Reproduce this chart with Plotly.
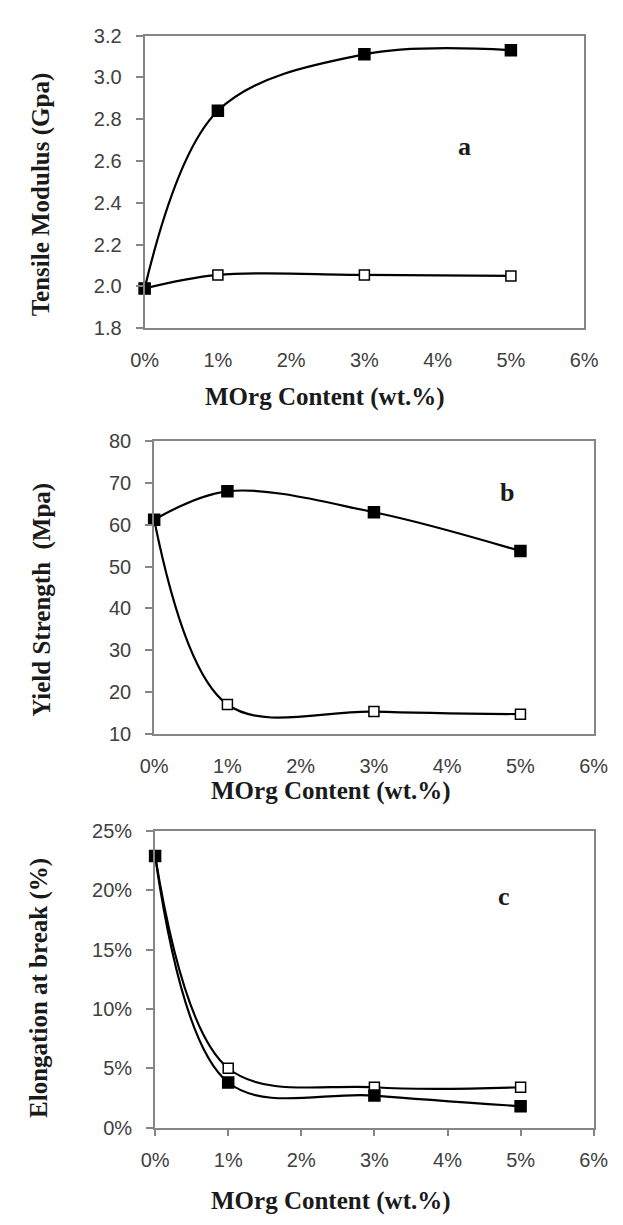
import plotly.graph_objects as go

W, H = 623, 1225

# ---- data ----
x_content = [0, 1, 3, 5]  # MOrg content (wt.%)
x_tickvals = [0, 1, 2, 3, 4, 5, 6]
x_ticklabels = ["0%", "1%", "2%", "3%", "4%", "5%", "6%"]

# panel a: tensile modulus (GPa)
mod_filled = [1.99, 2.84, 3.11, 3.13]
mod_open = [1.99, 2.055, 2.055, 2.05]

# panel b: yield strength (MPa)
ys_filled = [61.2, 68.0, 63.0, 53.7]
ys_open = [61.2, 17.0, 15.3, 14.7]

# panel c: elongation at break (%)
el_filled = [22.9, 3.8, 2.7, 1.8]
el_open = [22.9, 5.0, 3.4, 3.4]


def px(x):
    return x / W


def py(y):
    return 1 - y / H


fig = go.Figure()

panels = [
    dict(xa="x", ya="y", f=mod_filled, o=mod_open, xd=(137, 598), yd=(25, 323),
         yr=[1.8, 3.2], dt=0.2, suf="", fmt=".1f", xt="", so=13),
    dict(xa="x2", ya="y2", f=ys_filled, o=ys_open, xd=(147, 608), yd=(438, 736),
         yr=[10, 80], dt=10, suf="", fmt="d", xt="", so=13),
    dict(xa="x3", ya="y3", f=el_filled, o=el_open, xd=(148, 608), yd=(835, 1137),
         yr=[0, 25], dt=5, suf="%", fmt="d", xt="outside", so=7),
]

tickfont = dict(family="Liberation Sans, Arial, sans-serif", size=20, color="#404040")
axcol = "#858585"

for i, p in enumerate(panels):
    for vals, filled in ((p["o"], False), (p["f"], True)):
        fig.add_trace(go.Scatter(
            x=x_content, y=vals, xaxis=p["xa"], yaxis=p["ya"],
            mode="lines+markers",
            line=dict(color="black", width=2.2, shape="spline", smoothing=1.0),
            marker=dict(symbol="square", size=11 if filled else 10,
                        color="black" if filled else "white",
                        line=dict(color="black", width=1.5)),
            showlegend=False, cliponaxis=False,
        ))
    key = "" if i == 0 else str(i + 1)
    fig.layout["xaxis" + key] = dict(
        domain=[px(p["xd"][0]), px(p["xd"][1])], anchor=p["ya"],
        range=[0, 6], tickmode="array", tickvals=x_tickvals, ticktext=x_ticklabels,
        showline=True, linecolor=axcol, linewidth=2, mirror=True,
        ticks=p["xt"], ticklen=6, tickwidth=2, tickcolor=axcol,
        ticklabelstandoff=p["so"],
        showgrid=False, zeroline=False, tickfont=tickfont,
    )
    fig.layout["yaxis" + key] = dict(
        domain=[py(p["yd"][1]), py(p["yd"][0])], anchor=p["xa"],
        range=p["yr"], dtick=p["dt"], tick0=p["yr"][0], ticksuffix=p["suf"],
        tickformat=p["fmt"],
        showline=True, linecolor=axcol, linewidth=2, mirror=True,
        ticks="outside", ticklen=7, tickwidth=2, tickcolor=axcol,
        ticklabelstandoff=10,
        showgrid=False, zeroline=False, tickfont=tickfont,
    )

titlefont = dict(family="Liberation Serif, Times New Roman, serif", size=25, color="#1a1a1a")
ann = []
# x-axis titles
for (cx, cy) in [(326, 393), (333, 794), (333, 1212)]:
    ann.append(dict(x=px(cx), y=py(cy), xref="paper", yref="paper", text="<b>MOrg Content (wt.%)</b>",
                    showarrow=False, font=titlefont, xanchor="center", yanchor="middle"))
# y-axis titles
for (cx, cy, t) in [(28, 187, "Tensile Modulus (Gpa)"), (30, 600, "Yield Strength\u00a0\u00a0(Mpa)"),
                    (26, 995, "Elongation at break (%)")]:
    ann.append(dict(x=px(cx), y=py(cy), xref="paper", yref="paper", text="<b>" + t + "</b>",
                    showarrow=False, font=titlefont, textangle=-90, xanchor="center", yanchor="middle"))
# panel letters
for (cx, cy, t) in [(472, 138, "a"), (517, 490, "b"), (514, 902, "c")]:
    ann.append(dict(x=px(cx), y=py(cy), xref="paper", yref="paper", text="<b>" + t + "</b>",
                    showarrow=False, font=dict(family="Liberation Serif, serif", size=26, color="#1a1a1a"),
                    xanchor="center", yanchor="middle"))

fig.update_layout(
    width=W, height=H, margin=dict(l=0, r=0, t=0, b=0),
    paper_bgcolor="white", plot_bgcolor="white",
    annotations=ann, showlegend=False,
)

fig.write_html("out.html")
